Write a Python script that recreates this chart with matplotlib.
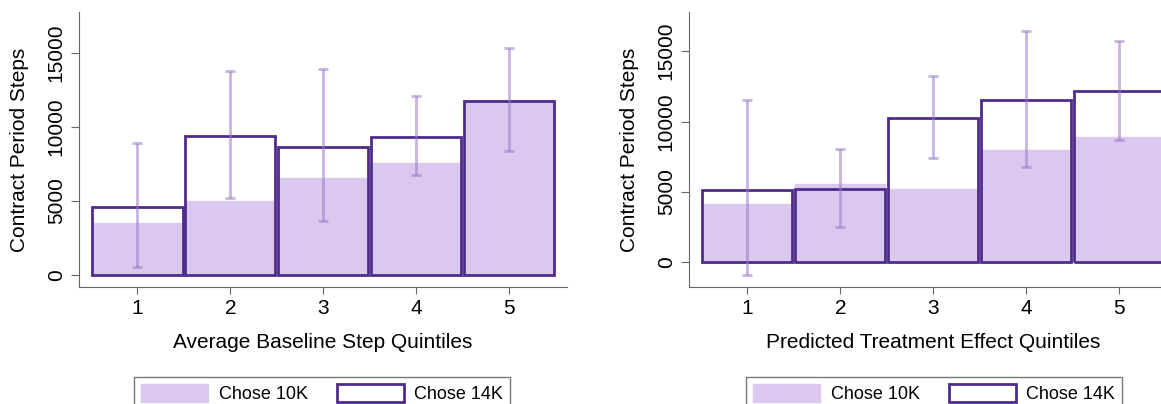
import numpy as np
import matplotlib.pyplot as plt
from matplotlib.patches import Patch

plt.rcParams['font.family'] = ['Liberation Sans', 'DejaVu Sans']

quintiles = [1, 2, 3, 4, 5]

# left panel: average baseline step quintiles
base_10k = [3500, 5000, 6550, 7550, 11700]
base_14k = [4620, 9390, 8670, 9300, 11770]
base_ci_lo = [560, 5220, 3650, 6760, 8380]
base_ci_hi = [8900, 13740, 13870, 12050, 15320]

# right panel: predicted treatment effect quintiles
pred_10k = [4180, 5600, 5190, 7960, 8900]
pred_14k = [5170, 5200, 10250, 11500, 12140]
pred_ci_lo = [-920, 2520, 7390, 6780, 8720]
pred_ci_hi = [11500, 8080, 13250, 16390, 15680]

fill_col = '#dbc8ef'
edge_col = '#4f2c8c'
err_col = '#9878c6'

fig = plt.figure(figsize=(11.61, 4.04), dpi=100)
ax1 = fig.add_axes([0.068, 0.290, 0.420, 0.680])
ax2 = fig.add_axes([0.5934, 0.290, 0.420, 0.680])

panels = [
    (ax1, base_10k, base_14k, base_ci_lo, base_ci_hi, 'Average Baseline Step Quintiles', (-790, 17740)),
    (ax2, pred_10k, pred_14k, pred_ci_lo, pred_ci_hi, 'Predicted Treatment Effect Quintiles', (-1730, 17760)),
]

for ax, v10, v14, lo, hi, xlab, ylim in panels:
    x = np.array(quintiles)
    ax.bar(x, v10, width=0.97, color=fill_col, edgecolor=fill_col, linewidth=1, zorder=1)
    ax.bar(x, v14, width=0.97, facecolor='none', edgecolor=edge_col, linewidth=2.0, zorder=2)
    mid = (np.array(lo) + np.array(hi)) / 2
    err = (np.array(hi) - np.array(lo)) / 2
    ax.errorbar(x, mid, yerr=err, fmt='none', ecolor=err_col, alpha=0.55,
                elinewidth=2.0, capsize=3.6, capthick=2.0, zorder=3)
    ax.set_xlim(0.37, 5.62)
    ax.set_ylim(*ylim)
    ax.set_xticks(quintiles)
    ax.set_yticks([0, 5000, 10000, 15000])
    ax.tick_params(axis='y', labelrotation=90, labelsize=15, length=6, color='#666666')
    ax.tick_params(axis='x', labelsize=15, length=5, color='#666666')
    for lbl in ax.get_yticklabels():
        lbl.set_verticalalignment('center')
    ax.set_xlabel(xlab, fontsize=15, labelpad=11)
    ax.set_ylabel('Contract Period Steps', fontsize=15, labelpad=13)
    ax.spines['top'].set_visible(False)
    ax.spines['right'].set_visible(False)
    ax.spines['left'].set_color('#666666')
    ax.spines['bottom'].set_color('#666666')

handles = [Patch(facecolor=fill_col, edgecolor=fill_col),
           Patch(facecolor='white', edgecolor=edge_col, linewidth=2)]
labels = ['Chose 10K', 'Chose 14K']
for xa in [134 / 1161, 746 / 1161]:
    fig.legend(handles, labels, loc='upper left', bbox_to_anchor=(xa, 1 - 377 / 404),
               ncol=2, fontsize=13, frameon=True, fancybox=False, edgecolor='#555555',
               handlelength=3.7, handleheight=1.1, columnspacing=1.6, handletextpad=0.6,
               borderpad=0.4, borderaxespad=0)

fig.savefig('out.png', dpi=100)
